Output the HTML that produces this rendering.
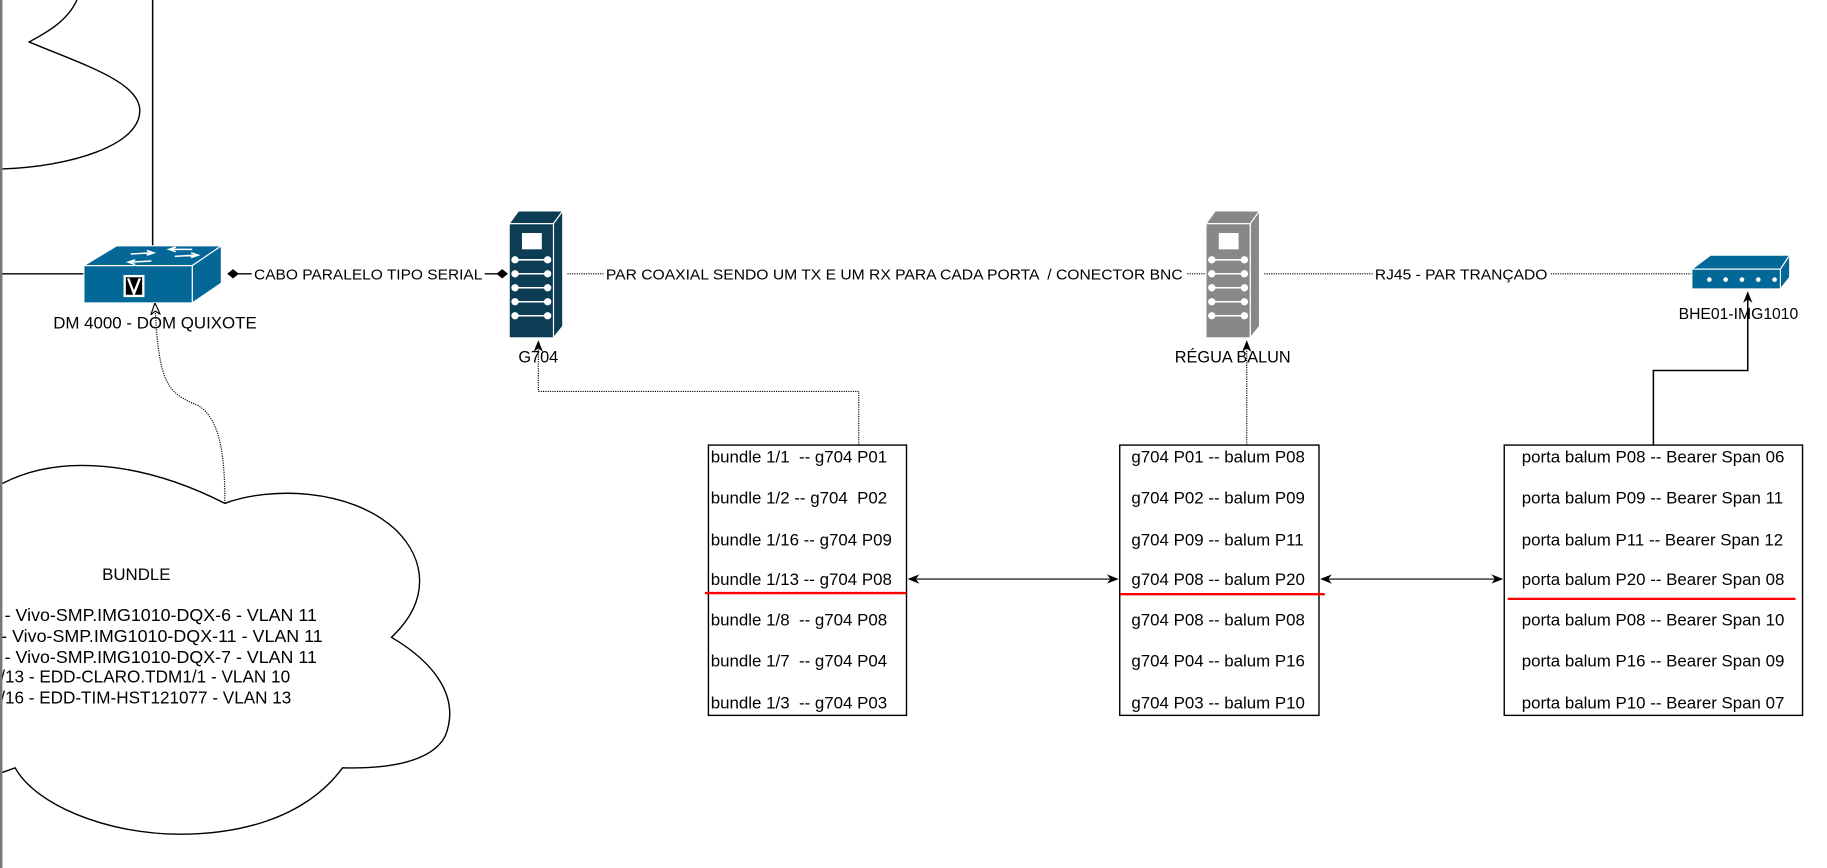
<!DOCTYPE html>
<html><head><meta charset="utf-8"><style>
html,body{margin:0;padding:0;background:#fff;overflow:hidden}
svg{display:block}
text{font-family:"Liberation Sans",Arial,sans-serif;font-size:13px;fill:#000;white-space:pre}
.b text{font-size:14.5px}
.c{font-size:15px}
</style></head><body>
<svg width="1827" height="868" viewBox="0 0 1568 745" preserveAspectRatio="none" xmlns="http://www.w3.org/2000/svg" xml:space="preserve">
<defs>
<marker id="ab" markerWidth="10" markerHeight="10" refX="9" refY="5" orient="auto" markerUnits="userSpaceOnUse"><path d="M0,1 L10,5 L0,9 L3,5 Z" fill="#000"/></marker>
<marker id="as" markerWidth="10" markerHeight="10" refX="1" refY="5" orient="auto" markerUnits="userSpaceOnUse"><path d="M10,1 L0,5 L10,9 L7,5 Z" fill="#000"/></marker>
<marker id="ao" markerWidth="10" markerHeight="10" refX="9" refY="5" orient="auto" markerUnits="userSpaceOnUse"><path d="M0,1 L10,5 L0,9 L3,5 Z" fill="#fff" stroke="#000" stroke-width="1"/></marker>
</defs>
<rect x="0" y="0" width="2" height="745" fill="#777"/>
<path d="M66,0 C58,18 40,28 25,36 C70,55 120,70 120,95 C120,125 60,143 2,145" fill="none" stroke="#000" stroke-width="1.2"/>
<line x1="131" y1="0" x2="131" y2="212" stroke="#000" stroke-width="1.3"/>
<line x1="2" y1="235" x2="72" y2="235" stroke="#000" stroke-width="1.2"/>
<path d="M72,228 L100,211 L190,211 L165,228 Z" fill="#036897" stroke="#fff" stroke-width="1"/>
<path d="M165,228 L190,211 L190,243 L165,260 Z" fill="#036897" stroke="#fff" stroke-width="1"/>
<rect x="72" y="228" width="93" height="32" fill="#036897" stroke="#fff" stroke-width="1"/>
<path d="M112,218 L130,217 M126,215 L132,217 L126,219 M150,220 L168,219 M164,217 L170,219 L164,221 M130,224 L112,225 M116,223 L110,225 L116,227 M165,214 L147,214 M151,212 L145,214 L151,216" stroke="#fff" stroke-width="1.3" fill="none"/>
<rect x="106" y="236" width="18" height="19" fill="#fff"/>
<rect x="108" y="238" width="14" height="15" fill="#000"/>
<path d="M110,239 L115,252 L120,239" stroke="#fff" stroke-width="2" fill="none"/>
<text x="133" y="282" text-anchor="middle" style="font-size:14.5px">DM 4000 - DOM QUIXOTE</text>
<line x1="200" y1="235" x2="430" y2="235" stroke="#000" stroke-width="1.2"/>
<path d="M195,235 L200,231 L205,235 L200,239 Z" fill="#000"/>
<path d="M426,235 L431,231 L436,235 L431,239 Z" fill="#000"/>
<rect x="216" y="227" width="200" height="16" fill="#fff"/>
<text x="218" y="240" textLength="196" lengthAdjust="spacingAndGlyphs">CABO PARALELO TIPO SERIAL</text>
<path d="M437,192 L445,181 L483,181 L475,192 Z" fill="#0c3d55" stroke="#fff"/>
<path d="M475,192 L483,181 L483,280 L475,290 Z" fill="#0c3d55" stroke="#fff"/>
<rect x="437" y="192" width="38" height="98" fill="#0c3d55" stroke="#fff"/>
<rect x="448" y="200" width="17" height="14" fill="#fff"/>
<g fill="#fff" stroke="#fff" stroke-width="1.3">
<circle cx="442" cy="223" r="2.5"/><circle cx="470" cy="223" r="2.5"/><line x1="442" y1="223" x2="470" y2="223"/>
<circle cx="442" cy="235" r="2.5"/><circle cx="470" cy="235" r="2.5"/><line x1="442" y1="235" x2="470" y2="235"/>
<circle cx="442" cy="247" r="2.5"/><circle cx="470" cy="247" r="2.5"/><line x1="442" y1="247" x2="470" y2="247"/>
<circle cx="442" cy="259" r="2.5"/><circle cx="470" cy="259" r="2.5"/><line x1="442" y1="259" x2="470" y2="259"/>
<circle cx="442" cy="271" r="2.5"/><circle cx="470" cy="271" r="2.5"/><line x1="442" y1="271" x2="470" y2="271"/>
</g>
<text x="462" y="311" text-anchor="middle" style="font-size:14px">G704</text>
<line x1="487" y1="235" x2="1035" y2="235" stroke="#000" stroke-width="1" stroke-dasharray="1,1"/>
<rect x="518" y="227" width="500" height="16" fill="#fff"/>
<text x="520" y="240" textLength="495" lengthAdjust="spacingAndGlyphs">PAR COAXIAL SENDO UM TX E UM RX PARA CADA PORTA  / CONECTOR BNC</text>
<path d="M1035,192 L1043,181 L1081,181 L1073,192 Z" fill="#888" stroke="#fff"/>
<path d="M1073,192 L1081,181 L1081,280 L1073,290 Z" fill="#888" stroke="#fff"/>
<rect x="1035" y="192" width="38" height="98" fill="#888" stroke="#fff"/>
<rect x="1046" y="200" width="17" height="14" fill="#fff"/>
<g fill="#fff" stroke="#fff" stroke-width="1.3">
<circle cx="1040" cy="223" r="2.5"/><circle cx="1068" cy="223" r="2.5"/><line x1="1040" y1="223" x2="1068" y2="223"/>
<circle cx="1040" cy="235" r="2.5"/><circle cx="1068" cy="235" r="2.5"/><line x1="1040" y1="235" x2="1068" y2="235"/>
<circle cx="1040" cy="247" r="2.5"/><circle cx="1068" cy="247" r="2.5"/><line x1="1040" y1="247" x2="1068" y2="247"/>
<circle cx="1040" cy="259" r="2.5"/><circle cx="1068" cy="259" r="2.5"/><line x1="1040" y1="259" x2="1068" y2="259"/>
<circle cx="1040" cy="271" r="2.5"/><circle cx="1068" cy="271" r="2.5"/><line x1="1040" y1="271" x2="1068" y2="271"/>
</g>
<text x="1058" y="311" text-anchor="middle" style="font-size:14px">RÉGUA BALUN</text>
<line x1="1085" y1="235" x2="1452" y2="235" stroke="#000" stroke-width="1" stroke-dasharray="1,1"/>
<rect x="1178" y="227" width="152" height="16" fill="#fff"/>
<text x="1180" y="240" textLength="148" lengthAdjust="spacingAndGlyphs">RJ45 - PAR TRANÇADO</text>
<path d="M1452,231 L1468,219 L1536,219 L1528,231 Z" fill="#036897" stroke="#fff"/>
<path d="M1528,231 L1536,219 L1536,238 L1528,248 Z" fill="#036897" stroke="#fff"/>
<rect x="1452" y="231" width="76" height="17" fill="#036897" stroke="#fff"/>
<g fill="#fff"><circle cx="1467" cy="240" r="2"/><circle cx="1481" cy="240" r="2"/><circle cx="1495" cy="240" r="2"/><circle cx="1509" cy="240" r="2"/><circle cx="1523" cy="240" r="2"/></g>
<text x="1492" y="274" text-anchor="middle" style="font-size:13.5px">BHE01-IMG1010</text>
<path d="M1419,382 L1419,318 L1500,318 L1500,251" fill="none" stroke="#000" stroke-width="1.3" marker-end="url(#ab)"/>
<path d="M737,382 L737,336 L462,336 L462,293" fill="none" stroke="#000" stroke-width="1" stroke-dasharray="1,1" marker-end="url(#ab)"/>
<path d="M1070,382 L1070,293" fill="none" stroke="#000" stroke-width="1" stroke-dasharray="1,1" marker-end="url(#ab)"/>
<path d="M193,432 C193,395 190,360 170,348 C145,338 138,330 134,280 L133,261" fill="none" stroke="#000" stroke-width="1" stroke-dasharray="1,1" marker-end="url(#ao)"/>
<path d="M2,415 C50,390 120,395 193,432 C230,418 300,418 340,455 C365,480 370,515 336,547 C375,570 395,600 382,632 C370,655 330,660 294,659 C260,705 200,716 155,716 C90,716 30,690 13,659 L2,663" fill="#fff" stroke="#000" stroke-width="1.2"/>
<text x="117" y="498" text-anchor="middle" style="font-size:14.5px">BUNDLE</text>
<text class="c" x="4" y="533" textLength="268" lengthAdjust="spacingAndGlyphs">- Vivo-SMP.IMG1010-DQX-6 - VLAN 11</text>
<text class="c" x="1" y="551" textLength="276" lengthAdjust="spacingAndGlyphs">- Vivo-SMP.IMG1010-DQX-11 - VLAN 11</text>
<text class="c" x="4" y="569" textLength="268" lengthAdjust="spacingAndGlyphs">- Vivo-SMP.IMG1010-DQX-7 - VLAN 11</text>
<text class="c" x="-8" y="586" textLength="257" lengthAdjust="spacingAndGlyphs">1/13 - EDD-CLARO.TDM1/1 - VLAN 10</text>
<text class="c" x="-8" y="604" textLength="258" lengthAdjust="spacingAndGlyphs">1/16 - EDD-TIM-HST121077 - VLAN 13</text>
<rect x="0" y="0" width="2" height="745" fill="#777"/>
<rect x="608" y="382" width="170" height="232" fill="#fff" stroke="#000" stroke-width="1.2"/>
<g class="b">
<text x="610" y="397">bundle 1/1  -- g704 P01</text>
<text x="610" y="432">bundle 1/2 -- g704  P02</text>
<text x="610" y="468">bundle 1/16 -- g704 P09</text>
<text x="610" y="502">bundle 1/13 -- g704 P08</text>
<text x="610" y="537">bundle 1/8  -- g704 P08</text>
<text x="610" y="572">bundle 1/7  -- g704 P04</text>
<text x="610" y="608">bundle 1/3  -- g704 P03</text>
</g>
<rect x="961" y="382" width="171" height="232" fill="#fff" stroke="#000" stroke-width="1.2"/>
<g class="b">
<text x="971" y="397">g704 P01 -- balum P08</text>
<text x="971" y="432">g704 P02 -- balum P09</text>
<text x="971" y="468">g704 P09 -- balum P11</text>
<text x="971" y="502">g704 P08 -- balum P20</text>
<text x="971" y="537">g704 P08 -- balum P08</text>
<text x="971" y="572">g704 P04 -- balum P16</text>
<text x="971" y="608">g704 P03 -- balum P10</text>
</g>
<rect x="1291" y="382" width="256" height="232" fill="#fff" stroke="#000" stroke-width="1.2"/>
<g class="b">
<text x="1306" y="397">porta balum P08 -- Bearer Span 06</text>
<text x="1306" y="432">porta balum P09 -- Bearer Span 11</text>
<text x="1306" y="468">porta balum P11 -- Bearer Span 12</text>
<text x="1306" y="502">porta balum P20 -- Bearer Span 08</text>
<text x="1306" y="537">porta balum P08 -- Bearer Span 10</text>
<text x="1306" y="572">porta balum P16 -- Bearer Span 09</text>
<text x="1306" y="608">porta balum P10 -- Bearer Span 07</text>
</g>
<line x1="605" y1="509" x2="778" y2="509" stroke="#f00" stroke-width="2"/>
<line x1="961" y1="510" x2="1137" y2="510" stroke="#f00" stroke-width="2"/>
<line x1="1294" y1="514" x2="1541" y2="514" stroke="#f00" stroke-width="2"/>
<line x1="780" y1="497" x2="959" y2="497" stroke="#000" stroke-width="1" marker-start="url(#as)" marker-end="url(#ab)"/>
<line x1="1134" y1="497" x2="1289" y2="497" stroke="#000" stroke-width="1" marker-start="url(#as)" marker-end="url(#ab)"/>
</svg>
</body></html>
